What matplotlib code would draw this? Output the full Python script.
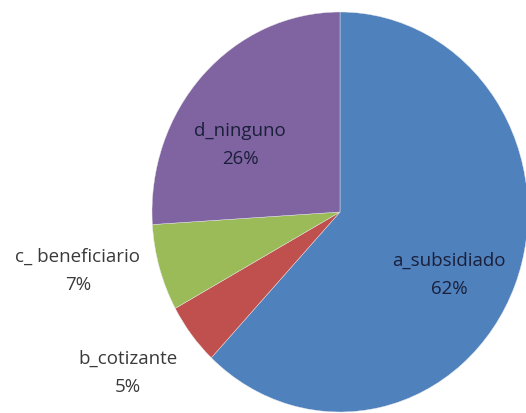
import matplotlib.pyplot as plt

# data
categories = ['a_subsidiado', 'b_cotizante', 'c_ beneficiario', 'd_ninguno']
shares = [62, 5, 7, 26]
colors = ['#4F81BD', '#C0504D', '#9BBB59', '#8064A2']

# label centres (axes data units, pie radius = 1)
label_pos = [(0.58, -0.31), (-1.128, -0.80), (-1.394, -0.29), (-0.532, 0.34)]
label_col = ['#1a1f3a', '#3a3a3a', '#3a3a3a', '#1a1f3a']

fig = plt.figure(figsize=(5.26, 4.14), dpi=100)
ax = fig.add_axes([0, 0, 1, 1])

ax.pie(shares, colors=colors, startangle=90, counterclock=False,
       wedgeprops=dict(linewidth=0.3, edgecolor='#e8e8e8'))

# stretched ellipse like the original picture
ax.set_aspect('auto')
ax.set_xlim(-340 / 188, (526 - 340) / 188)
ax.set_ylim(-201 / 200, 213 / 200)
ax.axis('off')

for name, val, (x, y), c in zip(categories, shares, label_pos, label_col):
    ax.text(x, y, '%s\n%d%%' % (name, val), ha='center', va='center',
            fontsize=13.5, color=c, linespacing=1.75, family='Open Sans')

plt.savefig('out.png', dpi=100)
